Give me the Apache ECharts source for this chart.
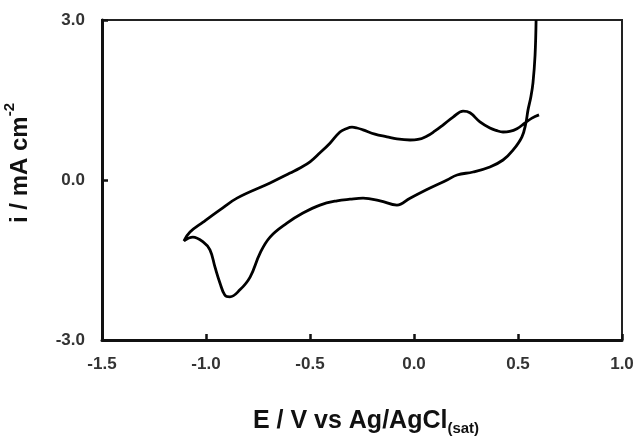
<!DOCTYPE html>
<html>
<head>
<meta charset="utf-8">
<script src="https://cdn.jsdelivr.net/npm/echarts@6/dist/echarts.min.js"></script>
<style>
  html, body { margin: 0; padding: 0; background: #fff; }
  #chart { width: 639px; height: 438px; }
</style>
</head>
<body>
<div id="chart"></div>
<script>
// potential (V vs Ag/AgCl) along the sweep, upper branch right->left then lower branch left->right
const potential = [
  0.601, 0.567, 0.534, 0.495, 0.460, 0.428, 0.395, 0.365, 0.317, 0.269,
  0.236, 0.188, 0.139, 0.101, 0.063, 0.019, -0.019, -0.082, -0.130,
  -0.188, -0.245, -0.274, -0.298, -0.327, -0.356, -0.404, -0.452, -0.500, -0.548,
  -0.596, -0.692, -0.851, -0.933, -1.014, -1.077, -1.106,
  -1.063, -1.014, -0.981, -0.957, -0.933, -0.909, -0.885, -0.837, -0.788, -0.740,
  -0.692, -0.611, -0.534, -0.452, -0.370, -0.308, -0.245, -0.163, -0.082, -0.019,
  0.077, 0.159, 0.207, 0.284, 0.365, 0.428, 0.476, 0.519, 0.538, 0.548,
  0.562, 0.572, 0.582, 0.587
]
// current density (mA cm-2)
const current = [
  1.22, 1.16, 1.07, 0.96, 0.91, 0.90, 0.93, 0.975, 1.09, 1.26,
  1.29, 1.18, 1.03, 0.92, 0.825, 0.76, 0.75, 0.77, 0.81,
  0.86, 0.94, 0.975, 0.99, 0.96, 0.90, 0.69, 0.51, 0.34, 0.225,
  0.13, -0.056, -0.34, -0.56, -0.79, -0.975, -1.14,
  -1.07, -1.16, -1.31, -1.63, -1.93, -2.16, -2.19, -2.06, -1.82, -1.37,
  -1.07, -0.81, -0.62, -0.47, -0.39, -0.36, -0.34, -0.39, -0.47, -0.34,
  -0.15, 0.0, 0.094, 0.15, 0.244, 0.375, 0.56, 0.81, 1.07, 1.31,
  1.56, 1.82, 2.34, 3.0
]
const xTicks = { min: -1.5, max: 1.0, interval: 0.5 }
const yTicks = { min: -3.0, max: 3.0, interval: 3.0 }

const points = potential.map((e, k) => [e, current[k]])

const chart = echarts.init(document.getElementById('chart'))
const font = 'Liberation Sans, Arial, sans-serif'
const labelStyle = {
  color: '#333',
  fontFamily: font,
  fontWeight: 'bold',
  fontSize: 17
}
// inward ticks: drawn on the outside side with a negative length
const tickStyle = { show: true, inside: false, length: -6, lineStyle: { color: '#111', width: 2.5 } }
chart.setOption({
  animation: false,
  grid: {
    left: 102, right: 17, top: 20, bottom: 98,
    outerBoundsMode: 'none',
    show: true, borderColor: '#222', borderWidth: 2
  },
  xAxis: {
    type: 'value',
    min: xTicks.min, max: xTicks.max, interval: xTicks.interval,
    name: '{a|E / V vs Ag/AgCl}{b|(sat)}',
    nameLocation: 'middle',
    nameGap: 66,
    nameTextStyle: {
      padding: [0, 0, 0, 8],
      rich: {
        a: { fontFamily: font, fontWeight: 'bold', fontSize: 25, color: '#111', lineHeight: 30, verticalAlign: 'middle' },
        b: { fontFamily: font, fontWeight: 'bold', fontSize: 15, color: '#111', lineHeight: 30, verticalAlign: 'bottom' }
      }
    },
    axisLine: { onZero: false, lineStyle: { color: '#111', width: 3 } },
    axisTick: tickStyle,
    axisLabel: Object.assign({ margin: 16, formatter: v => v.toFixed(1) }, labelStyle),
    splitLine: { show: false }
  },
  yAxis: {
    type: 'value',
    min: yTicks.min, max: yTicks.max, interval: yTicks.interval,
    name: '{a|i / mA cm}{b|-2}',
    nameLocation: 'middle',
    nameRotate: 90,
    nameGap: 70,
    nameTextStyle: {
      padding: [0, 0, 0, 34],
      rich: {
        a: { fontFamily: font, fontWeight: 'bold', fontSize: 24, color: '#111', lineHeight: 30, verticalAlign: 'bottom' },
        b: { fontFamily: font, fontWeight: 'bold', fontSize: 15, color: '#111', lineHeight: 30, verticalAlign: 'top' }
      }
    },
    axisLine: { onZero: false, lineStyle: { color: '#111', width: 3 } },
    axisTick: tickStyle,
    axisLabel: Object.assign({ margin: 17, formatter: v => v.toFixed(1) }, labelStyle),
    splitLine: { show: false }
  },
  series: [{
    type: 'line',
    data: points,
    showSymbol: false,
    smooth: 0.4,
    clip: true,
    lineStyle: { color: '#000', width: 2.8 }
  }]
})
</script>
</body>
</html>
